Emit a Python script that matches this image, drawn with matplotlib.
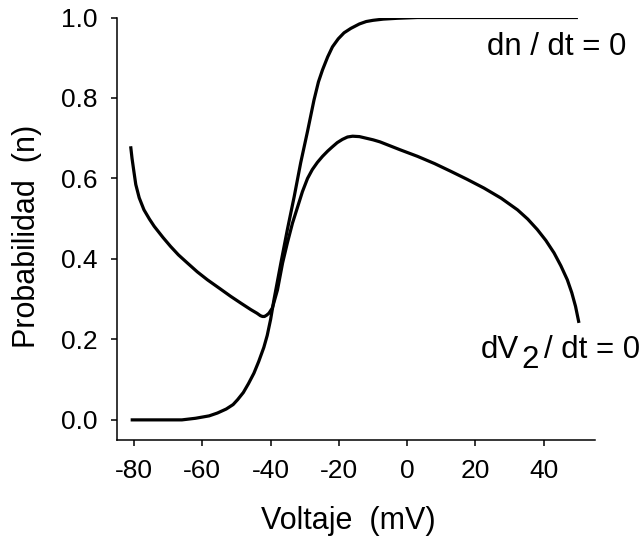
import numpy as np
import matplotlib
matplotlib.use("Agg")
import matplotlib.pyplot as plt
from matplotlib.transforms import IdentityTransform

plt.rcParams['font.family'] = ['Liberation Sans', 'DejaVu Sans']

# n-nullcline (dn/dt = 0)
n_volt = [-81, -66, -62, -58, -55.6, -53, -51, -49.7, -48, -46.5, -44.9,
          -43.5, -42, -41, -40, -39, -37, -35.1, -33.1, -31.2, -29.2, -27.3,
          -26, -24.8, -23.3, -21.9, -20.2, -18.5, -16.5, -14, -12, -10, -7,
          -3, 3, 50]
n_prob = [0.0, 0.0, 0.004, 0.010, 0.017, 0.027, 0.038, 0.050, 0.068, 0.090,
          0.116, 0.145, 0.180, 0.210, 0.250, 0.300, 0.390, 0.473, 0.555,
          0.639, 0.717, 0.795, 0.840, 0.870, 0.902, 0.927, 0.947, 0.962,
          0.973, 0.984, 0.990, 0.993, 0.996, 0.998, 1.0, 1.0]

# V-nullcline (dV2/dt = 0)
v_volt = [-81, -80.6, -80.1, -79.5, -78.5, -77.1, -75.5, -74.1, -71.5, -69.3,
          -67, -64.4, -61.5, -58.5, -55, -51.7, -48.7, -45.8, -44, -43,
          -42.4, -41.8, -41.2, -40.5, -39.5, -38, -36.5, -35.1, -33.6, -32,
          -30.7, -29.2, -27.8, -26.3, -24.8, -23.3, -22, -20.5, -19, -17.5,
          -16, -14, -12, -10, -8, -6.8, -2, 3, 8, 12.7, 17.5, 22.5, 27.5,
          32.3, 35.3, 38.1, 40.6, 43, 45, 46.9, 48.2, 49.3, 50.3]
v_prob = [0.680, 0.650, 0.620, 0.585, 0.552, 0.522, 0.499, 0.481, 0.453,
          0.431, 0.410, 0.390, 0.368, 0.348, 0.327, 0.307, 0.290, 0.274,
          0.265, 0.259, 0.257, 0.257, 0.260, 0.265, 0.278, 0.323, 0.390,
          0.440, 0.489, 0.532, 0.567, 0.600, 0.622, 0.640, 0.655, 0.668,
          0.678, 0.689, 0.697, 0.703, 0.705, 0.704, 0.700, 0.696, 0.691,
          0.687, 0.671, 0.655, 0.637, 0.618, 0.598, 0.576, 0.551, 0.522,
          0.499, 0.473, 0.446, 0.415, 0.383, 0.348, 0.316, 0.282, 0.241]

x_ticks = [-80, -60, -40, -20, 0, 20, 40]
y_ticks = [0.0, 0.2, 0.4, 0.6, 0.8, 1.0]

W, H = 642, 541
fig = plt.figure(figsize=(W / 100, H / 100), dpi=100)
ax = fig.add_axes([117 / W, 101 / H, 478 / W, 422.5 / H])

ax.plot(n_volt, n_prob, color='black', lw=2.3, solid_capstyle='butt',
        solid_joinstyle='round')
ax.plot(v_volt, v_prob, color='black', lw=2.3, solid_capstyle='butt',
        solid_joinstyle='round')

ax.set_xlim(-85, 55)
ax.set_ylim(-0.05, 1.0)
ax.set_xticks(x_ticks)
ax.set_xticklabels([str(t) for t in x_ticks])
ax.set_yticks(y_ticks)
ax.set_yticklabels([f"{t:.1f}" for t in y_ticks])

for s in ['top', 'right']:
    ax.spines[s].set_visible(False)
for s in ['left', 'bottom']:
    ax.spines[s].set_linewidth(1.1)
ax.tick_params(direction='out', length=4, width=1.1, labelsize=19, pad=10)

ax.set_xlabel("Voltaje  (mV)", fontsize=22)
ax.xaxis.set_label_coords(0.4843, -0.2107)
ax.xaxis.label.set_verticalalignment('baseline')
ax.set_ylabel("Probabilidad  (n)", fontsize=22)
ax.yaxis.set_label_coords(-0.188, 0.483)
ax.yaxis.label.set_verticalalignment('center')

# curve labels
ax.text(64.3, 0.908, "dn / dt = 0", fontsize=22.5, ha='right', va='baseline',
        clip_on=False)

fig.canvas.draw()
r = fig.canvas.get_renderer()
yb = 0.1535
t3 = ax.text(68.2, yb, "/ dt = 0", fontsize=22.5, ha='right', va='baseline',
             clip_on=False)
bb3 = t3.get_window_extent(r)
base_px = ax.transData.transform((0, yb))[1]
t2 = ax.text(bb3.x0 - 5, base_px - 10, "2", fontsize=22.5, ha='right',
             va='baseline', transform=IdentityTransform(), clip_on=False)
bb2 = t2.get_window_extent(r)
ax.text(bb2.x0 - 2, base_px, "dV", fontsize=22.5, ha='right', va='baseline',
        transform=IdentityTransform(), clip_on=False)

fig.savefig("out.png", dpi=100)
